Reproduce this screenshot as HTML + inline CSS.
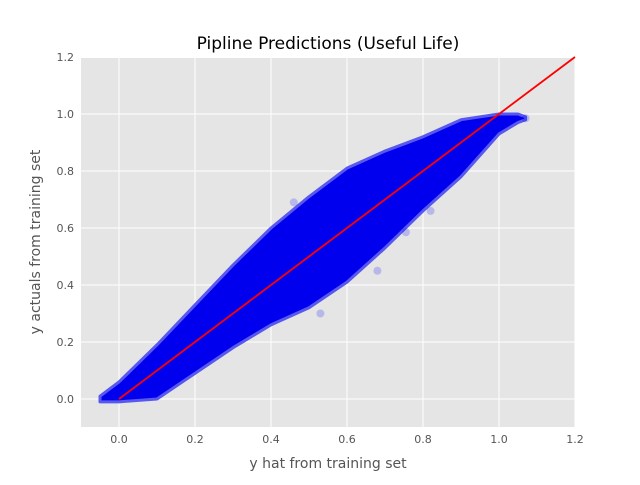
<!DOCTYPE html>
<html><head><meta charset="utf-8"><style>
body{margin:0;background:#fff;font-family:"Liberation Sans","DejaVu Sans",sans-serif}
svg text{font-family:"DejaVu Sans","Liberation Sans",sans-serif}
</style></head><body>
<svg id="chart" width="640" height="480" xmlns="http://www.w3.org/2000/svg">
<rect x="0" y="0" width="640" height="480" fill="#fff"/>
<rect x="81" y="58" width="494" height="369" fill="#e5e5e5"/>
<g id="grid"></g>
<g id="cloud"></g>
<g id="ticks"></g>
<text x="328" y="49" text-anchor="middle" font-size="17" fill="#000">Pipline Predictions (Useful Life)</text>
<text x="328" y="468" text-anchor="middle" font-size="14" fill="#555">y hat from training set</text>
<text transform="translate(40,242) rotate(-90)" text-anchor="middle" font-size="14" fill="#555">y actuals from training set</text>
</svg>
<script>
const xTicks=[0.0,0.2,0.4,0.6,0.8,1.0,1.2];
const yTicks=[0.0,0.2,0.4,0.6,0.8,1.0,1.2];
const envX=[-0.05,0.0,0.1,0.2,0.3,0.4,0.5,0.6,0.7,0.8,0.9,1.0,1.05,1.07];
const envUpper=[0.01,0.06,0.19,0.33,0.47,0.6,0.71,0.81,0.87,0.92,0.98,1.0,1.0,0.99];
const envLower=[-0.01,-0.01,0.0,0.09,0.18,0.26,0.32,0.41,0.53,0.66,0.78,0.93,0.97,0.98];
const outX=[0.46,0.82,0.755,0.68,1.07,0.63,0.53];
const outY=[0.69,0.66,0.585,0.45,0.985,0.52,0.3];
const lineX=[0,1.2], lineY=[0,1.2];
const X=v=>119+v*380, Y=v=>399-v*285;
const NS="http://www.w3.org/2000/svg";
function mk(t,a,p){const e=document.createElementNS(NS,t);for(const k in a)e.setAttribute(k,a[k]);p.appendChild(e);return e;}
const grid=document.getElementById('grid'), ticks=document.getElementById('ticks'), cloud=document.getElementById('cloud');
xTicks.forEach(v=>{
 const l=mk('line',{x1:X(v),x2:X(v),y1:58,y2:427,stroke:'#fff','stroke-width':1},grid);
 
 
 const t=mk('text',{x:X(v),y:443,'text-anchor':'middle','font-size':11,fill:'#555'},ticks);
 t.textContent=v.toFixed(1);
 
 
});
yTicks.forEach(v=>{
 const l=mk('line',{x1:81,x2:575,y1:Y(v),y2:Y(v),stroke:'#fff','stroke-width':1},grid);
 
 
 const t=mk('text',{x:74,y:Y(v)+4,'text-anchor':'end','font-size':11,fill:'#555'},ticks);
 t.textContent=v.toFixed(1);
 
 
});
function band(up,lo){let p=envX.map((x,i)=>X(x)+','+Y(up[i]));for(let i=envX.length-1;i>=0;i--)p.push(X(envX[i])+','+Y(lo[i]));return p.join(' ');}
const outer=mk('polygon',{points:band(envUpper,envLower),fill:'#0000ee','stroke':'#5858ee','stroke-width':3,'stroke-linejoin':'round'},cloud);


outX.forEach((x,i)=>{
 const c=mk('circle',{cx:X(x),cy:Y(outY[i]),r:4,fill:'#0000ff','fill-opacity':0.2},cloud);
 
 
});
const rl=mk('line',{x1:X(lineX[0]),y1:Y(lineY[0]),x2:X(lineX[1]),y2:Y(lineY[1]),stroke:'#ff0000','stroke-width':1.8},cloud);


</script>
</body></html>
